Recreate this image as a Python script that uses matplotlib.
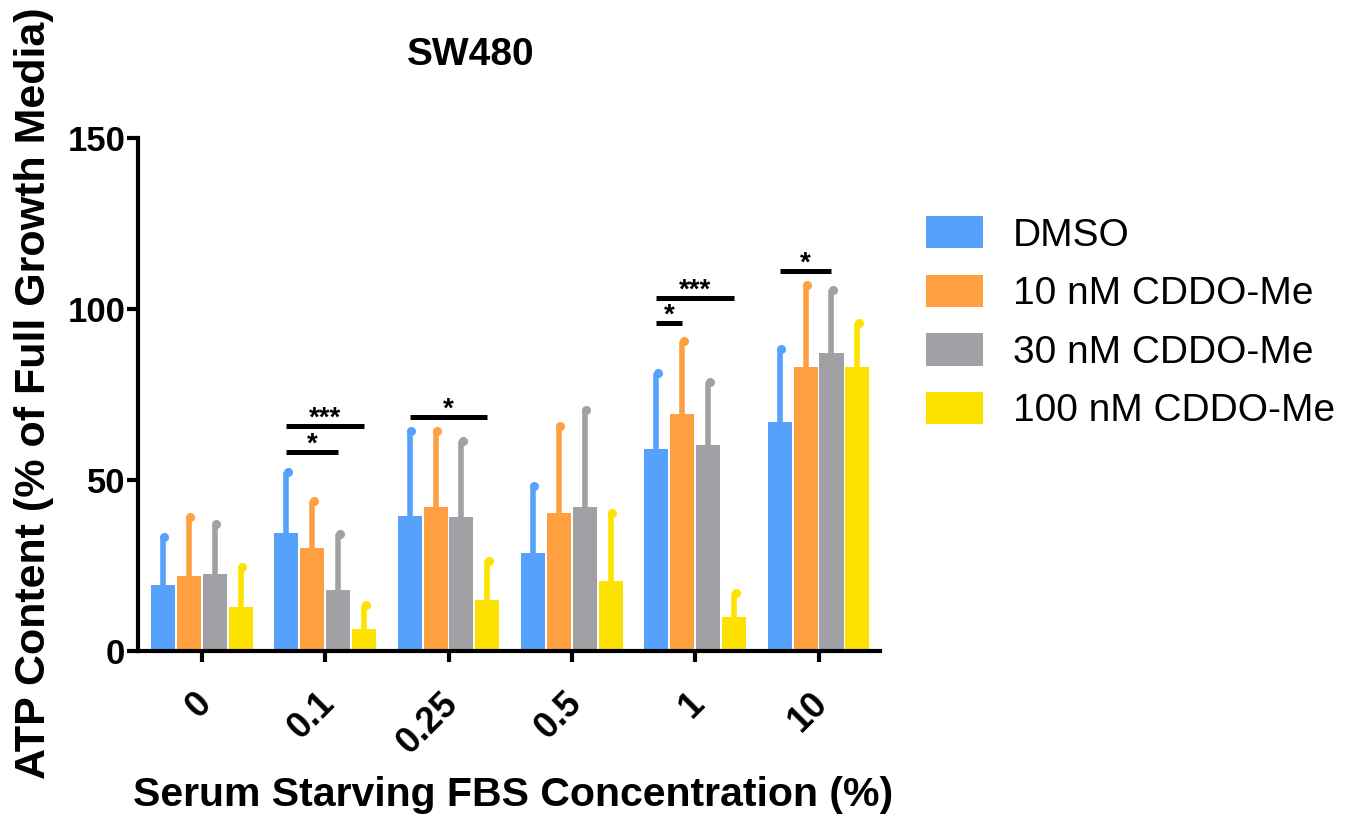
import matplotlib.pyplot as plt
import matplotlib.transforms as mtransforms
import numpy as np

plt.rcParams["font.family"] = ["Liberation Sans", "DejaVu Sans"]

# data
concentrations = ["0", "0.1", "0.25", "0.5", "1", "10"]
treatments = ["DMSO", "10 nM CDDO-Me", "30 nM CDDO-Me", "100 nM CDDO-Me"]
colors = ["#56a1fb", "#fea03f", "#a1a0a5", "#fde200"]

means = [
    [19.3, 34.5, 39.5, 28.6, 59.1, 67.0],   # DMSO
    [21.9, 30.1, 42.1, 40.3, 69.3, 83.0],   # 10 nM
    [22.5, 17.8, 39.2, 42.1, 60.2, 87.1],   # 30 nM
    [12.9, 6.4, 14.9, 20.5, 9.9, 83.0],     # 100 nM
]
err_tops = [
    [33.3, 52.3, 64.3, 48.2, 81.3, 88.3],
    [39.2, 44.0, 64.3, 65.8, 90.6, 107.0],
    [37.1, 34.2, 61.4, 70.5, 78.7, 105.6],
    [24.6, 13.5, 26.3, 40.4, 17.0, 96.0],
]

# significance brackets: (group, from bar, to bar, height, label)
sig_group = [1, 1, 2, 4, 4, 5]
sig_from = [0, 0, 0, 0, 0, 0]
sig_to = [3, 2, 3, 3, 1, 2]
sig_y = [65.8, 58.2, 68.4, 103.2, 95.9, 111.1]
sig_label = ["***", "*", "*", "***", "*", "*"]

fig = plt.figure(figsize=(13.5, 8.14), dpi=100)
ax = fig.add_axes([0.102, 0.2, 0.55, 0.6305])

x = np.arange(len(concentrations))
slot = 0.21
width = 0.195

for i, (name, c) in enumerate(zip(treatments, colors)):
    pos = x + (i - 1.5) * slot
    m = np.array(means[i])
    top = np.array(err_tops[i])
    ax.bar(pos, m, width=width, color=c, label=name, zorder=2)
    ax.vlines(pos, m, top, colors=c, lw=4, zorder=1)
    ax.plot(pos + 0.012, top, "o", color=c, ms=5.5, zorder=1)

for g, a, b, y, lab in zip(sig_group, sig_from, sig_to, sig_y, sig_label):
    xa = g + (a - 1.5) * slot
    xb = g + (b - 1.5) * slot
    ax.plot([xa, xb], [y, y], color="black", lw=3.6, solid_capstyle="butt")
    ax.text((xa + xb) / 2, y + 0.2, lab, ha="center", va="baseline",
            fontsize=20, fontweight="bold")

ax.set_xlim(-0.52, 5.5)
ax.set_ylim(0, 150)
ax.set_yticks([0, 50, 100, 150])
ax.set_xticks(x)

for s in ["top", "right"]:
    ax.spines[s].set_visible(False)
for s in ["left", "bottom"]:
    ax.spines[s].set_linewidth(3)
ax.tick_params(width=3, length=8, direction="out")
ax.tick_params(axis="y", pad=1)
ax.tick_params(axis="x", pad=14)

ax.set_xticklabels(concentrations, rotation=45, ha="right", va="top",
                   rotation_mode="anchor", fontsize=26, fontweight="bold")
shift = mtransforms.ScaledTranslation(-8 / 100, -4 / 100, fig.dpi_scale_trans)
for lab in ax.get_xticklabels():
    lab.set_transform(lab.get_transform() + shift)
for lab in ax.get_yticklabels():
    lab.set_fontsize(25)
    lab.set_fontweight("bold")

fig.text(0.38, 0.023, "Serum Starving FBS Concentration (%)", ha="center",
         va="center", fontsize=29.5, fontweight="bold")
fig.text(0.025, 0.517, "ATP Content (% of Full Growth Media)", ha="center",
         va="center", rotation=90, fontsize=31, fontweight="bold")
fig.text(0.349, 0.932, "SW480", ha="center", va="center", fontsize=28,
         fontweight="bold")

ax.legend(loc="center left", bbox_to_anchor=(1.014, 0.64), frameon=False,
          fontsize=28, handlelength=1.47, handleheight=0.9,
          handletextpad=0.77, labelspacing=0.54)

fig.savefig("out.png", dpi=100)
